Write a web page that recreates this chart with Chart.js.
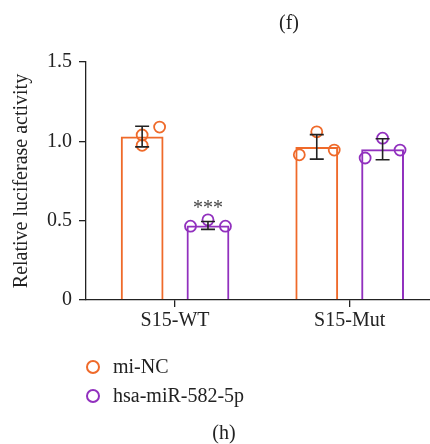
<!DOCTYPE html>
<html lang="en">
<head>
<meta charset="UTF-8">
<title>relative luciferase activity</title>
<style>
  body { margin: 0; background: #fff; }
  #wrap { position: relative; width: 430px; height: 444px; font-family: "Liberation Serif", serif; color: #222; }
  #chart { position: absolute; left: 0; top: 0; }
  .panel { position: absolute; font-size: 20px; transform: translate(-50%, -50%); }
  #legend { position: absolute; left: 86px; top: 352px; font-size: 20px; }
  .item { display: flex; align-items: center; height: 29px; }
  .dot { width: 10px; height: 10px; border: 2px solid; border-radius: 50%; margin-right: 13px; }
</style>
</head>
<body>
<div id="wrap">
  <canvas id="chart" width="430" height="444"></canvas>
  <div class="panel" style="left:289px; top:22px;">(f)</div>
  <div class="panel" style="left:224px; top:432px;">(h)</div>
  <div id="legend"></div>
</div>
<script src="https://cdn.jsdelivr.net/npm/chart.js"></script>
<script>
  const categories = ['S15-WT', 'S15-Mut'];
  const seriesNames = ['mi-NC', 'hsa-miR-582-5p'];
  const seriesColors = ['#EF6A2A', '#9130BE'];

  // bar heights, sd and replicate dots per category
  const ncMean = [1.03, 0.965];
  const ncSd = [0.065, 0.077];
  const ncDots = [[1.04, 0.975, 1.09], [0.915, 1.06, 0.945]];
  const mirMean = [0.47, 0.95];
  const mirSd = [0.025, 0.066];
  const mirDots = [[0.465, 0.505, 0.465], [0.895, 1.02, 0.945]];
  const mirMarks = ['***', ''];

  const yTicks = [0, 0.5, 1.0, 1.5];

  // horizontal spread of the replicate dots inside a bar (in category units)
  const dotJitter = [
    [[0, 0, 0.1], [-0.1, 0, 0.1]],
    [[-0.1, 0, 0.1], [-0.1, 0, 0.1]]
  ];

  const means = [ncMean, mirMean];
  const sds = [ncSd, mirSd];
  const dots = [ncDots, mirDots];
  const marks = [['', ''], mirMarks];

  const catPct = 0.754;
  const font = { family: '"Liberation Serif", serif', size: 20 };
  const ink = '#222';

  const barSets = seriesNames.map((name, s) => ({
    type: 'bar',
    label: name,
    data: means[s].map((v, i) => ({ x: i, y: v })),
    backgroundColor: 'rgba(255,255,255,0)',
    borderColor: seriesColors[s],
    borderWidth: 2,
    categoryPercentage: catPct,
    barPercentage: 0.65,
    order: 3
  }));

  const dotSets = seriesNames.map((name, s) => ({
    type: 'scatter',
    label: name + ' dots',
    data: categories.flatMap((c, i) => dots[s][i].map((v, k) => ({
      x: i + (s === 0 ? -1 : 1) * catPct / 4 + dotJitter[s][i][k],
      y: v
    }))),
    pointRadius: 5.5,
    pointBorderWidth: 1.8,
    borderColor: seriesColors[s],
    backgroundColor: 'rgba(255,255,255,0)',
    order: 1
  }));

  const errorBars = {
    id: 'errorBars',
    afterDatasetsDraw(chart) {
      const ctx = chart.ctx;
      const y = chart.scales.y;
      seriesNames.forEach((name, s) => {
        chart.getDatasetMeta(s).data.forEach((bar, i) => {
          const top = y.getPixelForValue(means[s][i] + sds[s][i]);
          const bot = y.getPixelForValue(means[s][i] - sds[s][i]);
          ctx.save();
          ctx.strokeStyle = ink;
          ctx.lineWidth = 1.6;
          ctx.beginPath();
          ctx.moveTo(bar.x, top); ctx.lineTo(bar.x, bot);
          ctx.moveTo(bar.x - 7, top); ctx.lineTo(bar.x + 7, top);
          ctx.moveTo(bar.x - 7, bot); ctx.lineTo(bar.x + 7, bot);
          ctx.stroke();
          if (marks[s][i]) {
            ctx.fillStyle = '#444';
            ctx.font = '20px "Liberation Serif", serif';
            ctx.textAlign = 'center';
            ctx.fillText(marks[s][i], bar.x, top - 7);
          }
          ctx.restore();
        });
      });
    }
  };

  new Chart(document.getElementById('chart'), {
    type: 'bar',
    data: { datasets: [...barSets, ...dotSets] },
    options: {
      responsive: false,
      animation: false,
      layout: { autoPadding: false, padding: { top: 62, right: 0, bottom: 0, left: 0 } },
      plugins: { legend: { display: false }, tooltip: { enabled: false } },
      scales: {
        x: {
          type: 'linear',
          offset: false,
          min: -0.51,
          max: 1.46,
          afterBuildTicks: (scale) => { scale.ticks = categories.map((c, i) => ({ value: i })); },
          afterFit: (scale) => { scale.height = 144; scale.paddingRight = 0; },
          ticks: { font, color: ink, padding: 2, maxRotation: 0, autoSkip: false, callback: (v) => categories[v] },
          grid: { offset: false, drawOnChartArea: false, tickLength: 7, color: ink, lineWidth: 1.3 },
          border: { color: ink, width: 1.3 }
        },
        y: {
          min: 0,
          max: 1.5,
          afterBuildTicks: (scale) => { scale.ticks = yTicks.map(v => ({ value: v })); },
          afterFit: (scale) => { scale.width = 86; },
          ticks: { font, color: ink, padding: 7, callback: (v) => v === 0 ? '0' : v.toFixed(1) },
          grid: { drawOnChartArea: false, tickLength: 7, color: ink, lineWidth: 1.3 },
          border: { color: ink, width: 1.3 },
          title: { display: true, text: 'Relative luciferase activity', font, color: ink, padding: { top: 9.5, bottom: 0 } }
        }
      }
    },
    plugins: [errorBars]
  });

  const legend = document.getElementById('legend');
  seriesNames.forEach((name, s) => {
    const row = document.createElement('div');
    row.className = 'item';
    row.innerHTML = '<span class="dot" style="border-color:' + seriesColors[s] + '"></span>' + name;
    legend.appendChild(row);
  });
</script>
</body>
</html>
